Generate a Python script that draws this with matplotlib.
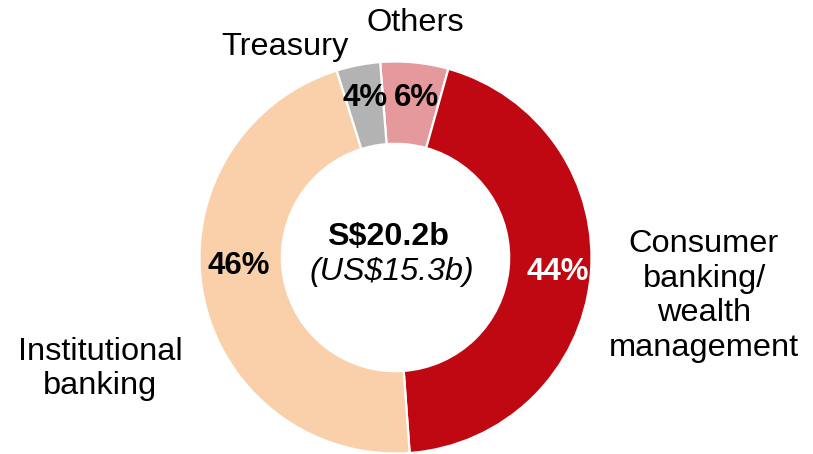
import matplotlib
matplotlib.use("Agg")
import matplotlib.pyplot as plt

# Data
segments = ["Others", "Consumer\nbanking/\nwealth\nmanagement", "Institutional\nbanking", "Treasury"]
shares = [5.6, 44.5, 46.3, 3.6]
pct_labels = ["6%", "44%", "46%", "4%"]
colors = ["#E5999C", "#BF0811", "#F9D0A9", "#B3B3B3"]
total_label = "S$20.2b"
total_usd_label = "(US$15.3b)"

plt.rcParams['font.family'] = ['Liberation Sans', 'DejaVu Sans']

W, H = 813, 454
fig = plt.figure(figsize=(W / 100, H / 100), dpi=100)
ax = fig.add_axes([0, 0, 1, 1])

cx, cy, R = 395.5, H - 257.5, 196
wedges, _ = ax.pie(shares, colors=colors, startangle=94.5, counterclock=False,
                   center=(cx, cy), radius=R, frame=True,
                   wedgeprops=dict(width=R * 0.42, edgecolor='white', linewidth=1.6))
ax.set_xlim(0, W)
ax.set_ylim(0, H)
ax.set_aspect('equal')
ax.axis('off')

def T(x, y, s, fs=23.4, **kw):
    ax.text(x, H - y, s, ha='center', va='center', fontsize=fs, **kw)

# percentage labels
T(416.5, 98, pct_labels[0], fs=22.5, fontweight='bold', color='black')
T(558, 272, pct_labels[1], fs=22.5, fontweight='bold', color='white')
T(239, 266, pct_labels[2], fs=22.5, fontweight='bold', color='black')
T(365, 98, pct_labels[3], fs=22.5, fontweight='bold', color='black')

# category labels
T(415, 23, segments[0])
T(704, 296, segments[1], linespacing=1.2)
T(100, 369, segments[2], linespacing=1.2)
T(285, 47, segments[3])

# center text
T(388, 237, total_label, fs=23.2, fontweight='bold')
T(392, 272, total_usd_label, fs=23.2, fontstyle='italic')

fig.savefig("out.png", dpi=100)
